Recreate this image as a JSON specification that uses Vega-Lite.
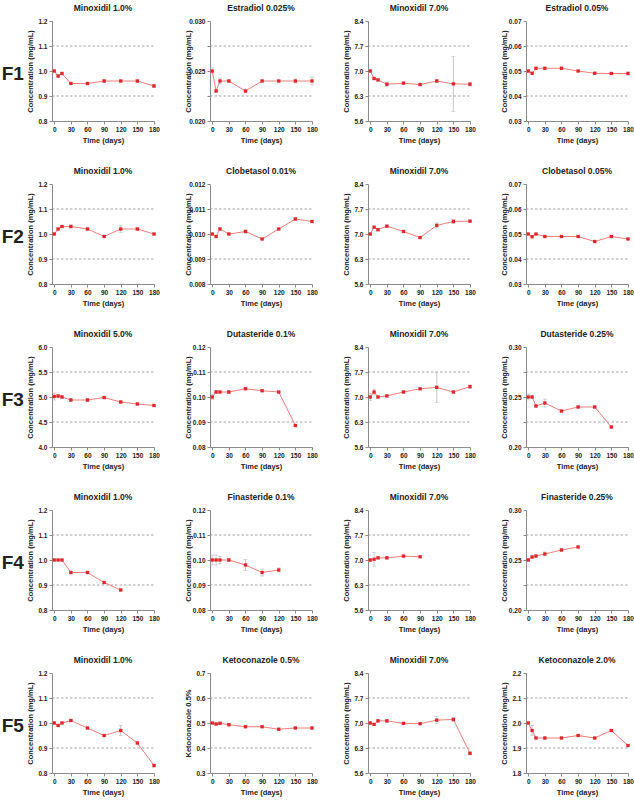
{
  "$schema": "https://vega.github.io/schema/vega-lite/v6.json",
  "padding": {"top": 3, "left": 1, "right": 1, "bottom": 2},
  "background": "white",
  "datasets": {
    "conc": [
      {"p":"F1a","t":0,"c":1.0,"sd":0.005},{"p":"F1a","t":7,"c":0.98,"sd":0.006},{"p":"F1a","t":14,"c":0.99,"sd":0.005},{"p":"F1a","t":30,"c":0.95,"sd":0.004},{"p":"F1a","t":60,"c":0.95,"sd":0.004},{"p":"F1a","t":90,"c":0.96,"sd":0.006},{"p":"F1a","t":120,"c":0.96,"sd":0.004},{"p":"F1a","t":150,"c":0.96,"sd":0.007},{"p":"F1a","t":180,"c":0.94,"sd":0.006},
      {"p":"F1b","t":0,"c":0.025,"sd":0.0003},{"p":"F1b","t":7,"c":0.023,"sd":0.0001},{"p":"F1b","t":14,"c":0.024,"sd":0.0003},{"p":"F1b","t":30,"c":0.024,"sd":0.0001},{"p":"F1b","t":60,"c":0.023,"sd":0.0002},{"p":"F1b","t":90,"c":0.024,"sd":0.0001},{"p":"F1b","t":120,"c":0.024,"sd":0.0001},{"p":"F1b","t":150,"c":0.024,"sd":0.0002},{"p":"F1b","t":180,"c":0.024,"sd":0.0004},
      {"p":"F1c","t":0,"c":7.0,"sd":0.04},{"p":"F1c","t":7,"c":6.79,"sd":0.03},{"p":"F1c","t":14,"c":6.75,"sd":0.03},{"p":"F1c","t":30,"c":6.63,"sd":0.06},{"p":"F1c","t":60,"c":6.66,"sd":0.03},{"p":"F1c","t":90,"c":6.62,"sd":0.03},{"p":"F1c","t":120,"c":6.72,"sd":0.05},{"p":"F1c","t":150,"c":6.64,"sd":0.77},{"p":"F1c","t":180,"c":6.63,"sd":0.05},
      {"p":"F1d","t":0,"c":0.05,"sd":0.0003},{"p":"F1d","t":7,"c":0.0491,"sd":0.0003},{"p":"F1d","t":14,"c":0.0511,"sd":0.0003},{"p":"F1d","t":30,"c":0.0511,"sd":0.0003},{"p":"F1d","t":60,"c":0.0511,"sd":0.0004},{"p":"F1d","t":90,"c":0.05,"sd":0.0003},{"p":"F1d","t":120,"c":0.0491,"sd":0.0003},{"p":"F1d","t":150,"c":0.049,"sd":0.0003},{"p":"F1d","t":180,"c":0.049,"sd":0.0006},
      {"p":"F2a","t":0,"c":1.0,"sd":0.004},{"p":"F2a","t":7,"c":1.02,"sd":0.004},{"p":"F2a","t":14,"c":1.03,"sd":0.004},{"p":"F2a","t":30,"c":1.03,"sd":0.006},{"p":"F2a","t":60,"c":1.02,"sd":0.004},{"p":"F2a","t":90,"c":0.99,"sd":0.004},{"p":"F2a","t":120,"c":1.02,"sd":0.015},{"p":"F2a","t":150,"c":1.02,"sd":0.005},{"p":"F2a","t":180,"c":1.0,"sd":0.003},
      {"p":"F2b","t":0,"c":0.01,"sd":0.00003},{"p":"F2b","t":7,"c":0.0099,"sd":0.00003},{"p":"F2b","t":14,"c":0.0102,"sd":0.00004},{"p":"F2b","t":30,"c":0.01,"sd":0.00003},{"p":"F2b","t":60,"c":0.0101,"sd":0.00006},{"p":"F2b","t":90,"c":0.0098,"sd":0.00002},{"p":"F2b","t":120,"c":0.0102,"sd":0.00003},{"p":"F2b","t":150,"c":0.0106,"sd":0.00005},{"p":"F2b","t":180,"c":0.0105,"sd":0.00003},
      {"p":"F2c","t":0,"c":7.0,"sd":0.03},{"p":"F2c","t":7,"c":7.19,"sd":0.03},{"p":"F2c","t":14,"c":7.12,"sd":0.03},{"p":"F2c","t":30,"c":7.22,"sd":0.03},{"p":"F2c","t":60,"c":7.07,"sd":0.03},{"p":"F2c","t":90,"c":6.9,"sd":0.02},{"p":"F2c","t":120,"c":7.24,"sd":0.07},{"p":"F2c","t":150,"c":7.35,"sd":0.06},{"p":"F2c","t":180,"c":7.36,"sd":0.03},
      {"p":"F2d","t":0,"c":0.05,"sd":0.0002},{"p":"F2d","t":7,"c":0.0489,"sd":0.0002},{"p":"F2d","t":14,"c":0.05,"sd":0.0002},{"p":"F2d","t":30,"c":0.049,"sd":0.0002},{"p":"F2d","t":60,"c":0.049,"sd":0.0002},{"p":"F2d","t":90,"c":0.049,"sd":0.0002},{"p":"F2d","t":120,"c":0.047,"sd":0.0002},{"p":"F2d","t":150,"c":0.049,"sd":0.0002},{"p":"F2d","t":180,"c":0.048,"sd":0.0002},
      {"p":"F3a","t":0,"c":5.01,"sd":0.07},{"p":"F3a","t":7,"c":5.02,"sd":0.03},{"p":"F3a","t":14,"c":5.0,"sd":0.03},{"p":"F3a","t":30,"c":4.94,"sd":0.03},{"p":"F3a","t":60,"c":4.94,"sd":0.03},{"p":"F3a","t":90,"c":4.99,"sd":0.02},{"p":"F3a","t":120,"c":4.9,"sd":0.02},{"p":"F3a","t":150,"c":4.86,"sd":0.02},{"p":"F3a","t":180,"c":4.83,"sd":0.02},
      {"p":"F3b","t":0,"c":0.1,"sd":0.001},{"p":"F3b","t":7,"c":0.102,"sd":0.0006},{"p":"F3b","t":14,"c":0.102,"sd":0.0004},{"p":"F3b","t":30,"c":0.102,"sd":0.0006},{"p":"F3b","t":60,"c":0.1033,"sd":0.0003},{"p":"F3b","t":90,"c":0.1025,"sd":0.0003},{"p":"F3b","t":120,"c":0.102,"sd":0.0003},{"p":"F3b","t":150,"c":0.0886,"sd":0.0003},
      {"p":"F3c","t":0,"c":7.0,"sd":0.1},{"p":"F3c","t":7,"c":7.14,"sd":0.08},{"p":"F3c","t":14,"c":7.0,"sd":0.03},{"p":"F3c","t":30,"c":7.03,"sd":0.03},{"p":"F3c","t":60,"c":7.14,"sd":0.03},{"p":"F3c","t":90,"c":7.23,"sd":0.03},{"p":"F3c","t":120,"c":7.27,"sd":0.42},{"p":"F3c","t":150,"c":7.14,"sd":0.03},{"p":"F3c","t":180,"c":7.29,"sd":0.05},
      {"p":"F3d","t":0,"c":0.25,"sd":0.003},{"p":"F3d","t":7,"c":0.25,"sd":0.001},{"p":"F3d","t":14,"c":0.241,"sd":0.001},{"p":"F3d","t":30,"c":0.244,"sd":0.004},{"p":"F3d","t":60,"c":0.236,"sd":0.001},{"p":"F3d","t":90,"c":0.24,"sd":0.001},{"p":"F3d","t":120,"c":0.24,"sd":0.001},{"p":"F3d","t":150,"c":0.22,"sd":0.001},
      {"p":"F4a","t":0,"c":1.0,"sd":0.003},{"p":"F4a","t":7,"c":1.0,"sd":0.003},{"p":"F4a","t":14,"c":1.0,"sd":0.003},{"p":"F4a","t":30,"c":0.95,"sd":0.004},{"p":"F4a","t":60,"c":0.95,"sd":0.004},{"p":"F4a","t":90,"c":0.91,"sd":0.004},{"p":"F4a","t":120,"c":0.88,"sd":0.004},
      {"p":"F4b","t":0,"c":0.1,"sd":0.002},{"p":"F4b","t":7,"c":0.1,"sd":0.002},{"p":"F4b","t":14,"c":0.1,"sd":0.0015},{"p":"F4b","t":30,"c":0.1,"sd":0.0006},{"p":"F4b","t":60,"c":0.098,"sd":0.0022},{"p":"F4b","t":90,"c":0.095,"sd":0.0014},{"p":"F4b","t":120,"c":0.096,"sd":0.0008},
      {"p":"F4c","t":0,"c":7.0,"sd":0.04},{"p":"F4c","t":7,"c":7.02,"sd":0.19},{"p":"F4c","t":14,"c":7.06,"sd":0.03},{"p":"F4c","t":30,"c":7.06,"sd":0.03},{"p":"F4c","t":60,"c":7.11,"sd":0.02},{"p":"F4c","t":90,"c":7.09,"sd":0.02},
      {"p":"F4d","t":0,"c":0.25,"sd":0.0015},{"p":"F4d","t":7,"c":0.253,"sd":0.001},{"p":"F4d","t":14,"c":0.254,"sd":0.001},{"p":"F4d","t":30,"c":0.256,"sd":0.002},{"p":"F4d","t":60,"c":0.26,"sd":0.001},{"p":"F4d","t":90,"c":0.263,"sd":0.001},
      {"p":"F5a","t":0,"c":1.0,"sd":0.005},{"p":"F5a","t":7,"c":0.99,"sd":0.004},{"p":"F5a","t":14,"c":1.0,"sd":0.004},{"p":"F5a","t":30,"c":1.01,"sd":0.004},{"p":"F5a","t":60,"c":0.98,"sd":0.003},{"p":"F5a","t":90,"c":0.95,"sd":0.004},{"p":"F5a","t":120,"c":0.97,"sd":0.02},{"p":"F5a","t":150,"c":0.92,"sd":0.004},{"p":"F5a","t":180,"c":0.83,"sd":0.006},
      {"p":"F5b","t":0,"c":0.5,"sd":0.004},{"p":"F5b","t":7,"c":0.496,"sd":0.004},{"p":"F5b","t":14,"c":0.499,"sd":0.004},{"p":"F5b","t":30,"c":0.493,"sd":0.004},{"p":"F5b","t":60,"c":0.485,"sd":0.003},{"p":"F5b","t":90,"c":0.485,"sd":0.003},{"p":"F5b","t":120,"c":0.475,"sd":0.004},{"p":"F5b","t":150,"c":0.48,"sd":0.003},{"p":"F5b","t":180,"c":0.48,"sd":0.004},
      {"p":"F5c","t":0,"c":7.0,"sd":0.03},{"p":"F5c","t":7,"c":6.96,"sd":0.03},{"p":"F5c","t":14,"c":7.06,"sd":0.03},{"p":"F5c","t":30,"c":7.06,"sd":0.04},{"p":"F5c","t":60,"c":6.99,"sd":0.02},{"p":"F5c","t":90,"c":6.98,"sd":0.02},{"p":"F5c","t":120,"c":7.08,"sd":0.1},{"p":"F5c","t":150,"c":7.1,"sd":0.06},{"p":"F5c","t":180,"c":6.15,"sd":0.04},
      {"p":"F5d","t":0,"c":2.0,"sd":0.004},{"p":"F5d","t":7,"c":1.97,"sd":0.02},{"p":"F5d","t":14,"c":1.94,"sd":0.003},{"p":"F5d","t":30,"c":1.94,"sd":0.004},{"p":"F5d","t":60,"c":1.94,"sd":0.003},{"p":"F5d","t":90,"c":1.95,"sd":0.003},{"p":"F5d","t":120,"c":1.94,"sd":0.003},{"p":"F5d","t":150,"c":1.97,"sd":0.003},{"p":"F5d","t":180,"c":1.91,"sd":0.003}
    ],
    "lim": [
      {"p":"F1a","c":0.9},{"p":"F1a","c":1.1},{"p":"F1b","c":0.0225},{"p":"F1b","c":0.0275},{"p":"F1c","c":6.3},{"p":"F1c","c":7.7},{"p":"F1d","c":0.04},{"p":"F1d","c":0.06},
      {"p":"F2a","c":0.9},{"p":"F2a","c":1.1},{"p":"F2b","c":0.009},{"p":"F2b","c":0.011},{"p":"F2c","c":6.3},{"p":"F2c","c":7.7},{"p":"F2d","c":0.04},{"p":"F2d","c":0.06},
      {"p":"F3a","c":4.5},{"p":"F3a","c":5.5},{"p":"F3b","c":0.09},{"p":"F3b","c":0.11},{"p":"F3c","c":6.3},{"p":"F3c","c":7.7},{"p":"F3d","c":0.225},{"p":"F3d","c":0.275},
      {"p":"F4a","c":0.9},{"p":"F4a","c":1.1},{"p":"F4b","c":0.09},{"p":"F4b","c":0.11},{"p":"F4c","c":6.3},{"p":"F4c","c":7.7},{"p":"F4d","c":0.225},{"p":"F4d","c":0.275},
      {"p":"F5a","c":0.9},{"p":"F5a","c":1.1},{"p":"F5b","c":0.4},{"p":"F5b","c":0.6},{"p":"F5c","c":6.3},{"p":"F5c","c":7.7},{"p":"F5d","c":1.9},{"p":"F5d","c":2.1}
    ]
  },
  "spacing": 22,
  "vconcat": [
    {"title": {"text": "F1", "orient": "left", "angle": 0, "align": "right", "baseline": "middle", "fontSize": 19, "anchor": "middle", "offset": -20}, "spacing": 24, "hconcat": [
      {"title": "Minoxidil 1.0%", "width": 102, "height": 100, "data": {"name": "conc"}, "transform": [{"filter": "datum.p=='F1a'"}],
       "encoding": {
         "x": {"field": "t", "type": "quantitative", "scale": {"domain": [-4, 180], "nice": false}, "axis": {"values": [0, 30, 60, 90, 120, 150, 180], "labelOverlap": false, "title": "Time (days)"}},
         "y": {"field": "c", "type": "quantitative", "scale": {"domain": [0.8, 1.2], "nice": false, "zero": false}, "axis": {"values": [0.8, 0.9, 1.0, 1.1, 1.2], "format": ".1f", "title": "Concentration (mg/mL)"}}},
       "layer": [
        {"data": {"name": "lim"}, "transform": [{"filter": "datum.p=='F1a'"}], "mark": {"type": "rule", "style": "lim"}, "encoding": {"x": {"value": 0}, "x2": {"value": "width"}}},
        {"mark": {"type": "errorbar", "ticks": true, "size": 4, "color": "#b8b8b8", "thickness": 0.8}, "encoding": {"yError": {"field": "sd"}}},
        {"mark": {"type": "line", "style": "ln"}, "encoding": {}},
        {"mark": {"type": "square", "style": "pt"}, "encoding": {}}
       ]},
      {"title": "Estradiol 0.025%", "width": 102, "height": 100, "data": {"name": "conc"}, "transform": [{"filter": "datum.p=='F1b'"}],
       "encoding": {
         "x": {"field": "t", "type": "quantitative", "scale": {"domain": [-4, 180], "nice": false}, "axis": {"values": [0, 30, 60, 90, 120, 150, 180], "labelOverlap": false, "title": "Time (days)"}},
         "y": {"field": "c", "type": "quantitative", "scale": {"domain": [0.02, 0.03], "nice": false, "zero": false}, "axis": {"values": [0.02, 0.0225, 0.025, 0.0275, 0.03], "format": ".3f", "labelExpr": "indexof(['0.020','0.025','0.030'], datum.label) < 0 ? '' : datum.label", "title": "Concentration (mg/mL)"}}},
       "layer": [
        {"data": {"name": "lim"}, "transform": [{"filter": "datum.p=='F1b'"}], "mark": {"type": "rule", "style": "lim"}, "encoding": {"x": {"value": 0}, "x2": {"value": "width"}}},
        {"mark": {"type": "errorbar", "ticks": true, "size": 4, "color": "#b8b8b8", "thickness": 0.8}, "encoding": {"yError": {"field": "sd"}}},
        {"mark": {"type": "line", "style": "ln"}, "encoding": {}},
        {"mark": {"type": "square", "style": "pt"}, "encoding": {}}
       ]},
      {"title": "Minoxidil 7.0%", "width": 102, "height": 100, "data": {"name": "conc"}, "transform": [{"filter": "datum.p=='F1c'"}],
       "encoding": {
         "x": {"field": "t", "type": "quantitative", "scale": {"domain": [-4, 180], "nice": false}, "axis": {"values": [0, 30, 60, 90, 120, 150, 180], "labelOverlap": false, "title": "Time (days)"}},
         "y": {"field": "c", "type": "quantitative", "scale": {"domain": [5.6, 8.4], "nice": false, "zero": false}, "axis": {"values": [5.6, 6.3, 7.0, 7.7, 8.4], "format": ".1f", "title": "Concentration (mg/mL)"}}},
       "layer": [
        {"data": {"name": "lim"}, "transform": [{"filter": "datum.p=='F1c'"}], "mark": {"type": "rule", "style": "lim"}, "encoding": {"x": {"value": 0}, "x2": {"value": "width"}}},
        {"mark": {"type": "errorbar", "ticks": true, "size": 4, "color": "#b8b8b8", "thickness": 0.8}, "encoding": {"yError": {"field": "sd"}}},
        {"mark": {"type": "line", "style": "ln"}, "encoding": {}},
        {"mark": {"type": "square", "style": "pt"}, "encoding": {}}
       ]},
      {"title": "Estradiol 0.05%", "width": 102, "height": 100, "data": {"name": "conc"}, "transform": [{"filter": "datum.p=='F1d'"}],
       "encoding": {
         "x": {"field": "t", "type": "quantitative", "scale": {"domain": [-4, 180], "nice": false}, "axis": {"values": [0, 30, 60, 90, 120, 150, 180], "labelOverlap": false, "title": "Time (days)"}},
         "y": {"field": "c", "type": "quantitative", "scale": {"domain": [0.03, 0.07], "nice": false, "zero": false}, "axis": {"values": [0.03, 0.04, 0.05, 0.06, 0.07], "format": ".2f", "title": "Concentration (mg/mL)"}}},
       "layer": [
        {"data": {"name": "lim"}, "transform": [{"filter": "datum.p=='F1d'"}], "mark": {"type": "rule", "style": "lim"}, "encoding": {"x": {"value": 0}, "x2": {"value": "width"}}},
        {"mark": {"type": "errorbar", "ticks": true, "size": 4, "color": "#b8b8b8", "thickness": 0.8}, "encoding": {"yError": {"field": "sd"}}},
        {"mark": {"type": "line", "style": "ln"}, "encoding": {}},
        {"mark": {"type": "square", "style": "pt"}, "encoding": {}}
       ]}
    ]},
    {"title": {"text": "F2", "orient": "left", "angle": 0, "align": "right", "baseline": "middle", "fontSize": 19, "anchor": "middle", "offset": -20}, "spacing": 24, "hconcat": [
      {"title": "Minoxidil 1.0%", "width": 102, "height": 100, "data": {"name": "conc"}, "transform": [{"filter": "datum.p=='F2a'"}],
       "encoding": {
         "x": {"field": "t", "type": "quantitative", "scale": {"domain": [-4, 180], "nice": false}, "axis": {"values": [0, 30, 60, 90, 120, 150, 180], "labelOverlap": false, "title": "Time (days)"}},
         "y": {"field": "c", "type": "quantitative", "scale": {"domain": [0.8, 1.2], "nice": false, "zero": false}, "axis": {"values": [0.8, 0.9, 1.0, 1.1, 1.2], "format": ".1f", "title": "Concentration (mg/mL)"}}},
       "layer": [
        {"data": {"name": "lim"}, "transform": [{"filter": "datum.p=='F2a'"}], "mark": {"type": "rule", "style": "lim"}, "encoding": {"x": {"value": 0}, "x2": {"value": "width"}}},
        {"mark": {"type": "errorbar", "ticks": true, "size": 4, "color": "#b8b8b8", "thickness": 0.8}, "encoding": {"yError": {"field": "sd"}}},
        {"mark": {"type": "line", "style": "ln"}, "encoding": {}},
        {"mark": {"type": "square", "style": "pt"}, "encoding": {}}
       ]},
      {"title": "Clobetasol 0.01%", "width": 102, "height": 100, "data": {"name": "conc"}, "transform": [{"filter": "datum.p=='F2b'"}],
       "encoding": {
         "x": {"field": "t", "type": "quantitative", "scale": {"domain": [-4, 180], "nice": false}, "axis": {"values": [0, 30, 60, 90, 120, 150, 180], "labelOverlap": false, "title": "Time (days)"}},
         "y": {"field": "c", "type": "quantitative", "scale": {"domain": [0.008, 0.012], "nice": false, "zero": false}, "axis": {"values": [0.008, 0.009, 0.01, 0.011, 0.012], "format": ".3f", "title": "Concentration (mg/mL)"}}},
       "layer": [
        {"data": {"name": "lim"}, "transform": [{"filter": "datum.p=='F2b'"}], "mark": {"type": "rule", "style": "lim"}, "encoding": {"x": {"value": 0}, "x2": {"value": "width"}}},
        {"mark": {"type": "errorbar", "ticks": true, "size": 4, "color": "#b8b8b8", "thickness": 0.8}, "encoding": {"yError": {"field": "sd"}}},
        {"mark": {"type": "line", "style": "ln"}, "encoding": {}},
        {"mark": {"type": "square", "style": "pt"}, "encoding": {}}
       ]},
      {"title": "Minoxidil 7.0%", "width": 102, "height": 100, "data": {"name": "conc"}, "transform": [{"filter": "datum.p=='F2c'"}],
       "encoding": {
         "x": {"field": "t", "type": "quantitative", "scale": {"domain": [-4, 180], "nice": false}, "axis": {"values": [0, 30, 60, 90, 120, 150, 180], "labelOverlap": false, "title": "Time (days)"}},
         "y": {"field": "c", "type": "quantitative", "scale": {"domain": [5.6, 8.4], "nice": false, "zero": false}, "axis": {"values": [5.6, 6.3, 7.0, 7.7, 8.4], "format": ".1f", "title": "Concentration (mg/mL)"}}},
       "layer": [
        {"data": {"name": "lim"}, "transform": [{"filter": "datum.p=='F2c'"}], "mark": {"type": "rule", "style": "lim"}, "encoding": {"x": {"value": 0}, "x2": {"value": "width"}}},
        {"mark": {"type": "errorbar", "ticks": true, "size": 4, "color": "#b8b8b8", "thickness": 0.8}, "encoding": {"yError": {"field": "sd"}}},
        {"mark": {"type": "line", "style": "ln"}, "encoding": {}},
        {"mark": {"type": "square", "style": "pt"}, "encoding": {}}
       ]},
      {"title": "Clobetasol 0.05%", "width": 102, "height": 100, "data": {"name": "conc"}, "transform": [{"filter": "datum.p=='F2d'"}],
       "encoding": {
         "x": {"field": "t", "type": "quantitative", "scale": {"domain": [-4, 180], "nice": false}, "axis": {"values": [0, 30, 60, 90, 120, 150, 180], "labelOverlap": false, "title": "Time (days)"}},
         "y": {"field": "c", "type": "quantitative", "scale": {"domain": [0.03, 0.07], "nice": false, "zero": false}, "axis": {"values": [0.03, 0.04, 0.05, 0.06, 0.07], "format": ".2f", "title": "Concentration (mg/mL)"}}},
       "layer": [
        {"data": {"name": "lim"}, "transform": [{"filter": "datum.p=='F2d'"}], "mark": {"type": "rule", "style": "lim"}, "encoding": {"x": {"value": 0}, "x2": {"value": "width"}}},
        {"mark": {"type": "errorbar", "ticks": true, "size": 4, "color": "#b8b8b8", "thickness": 0.8}, "encoding": {"yError": {"field": "sd"}}},
        {"mark": {"type": "line", "style": "ln"}, "encoding": {}},
        {"mark": {"type": "square", "style": "pt"}, "encoding": {}}
       ]}
    ]},
    {"title": {"text": "F3", "orient": "left", "angle": 0, "align": "right", "baseline": "middle", "fontSize": 19, "anchor": "middle", "offset": -20}, "spacing": 24, "hconcat": [
      {"title": "Minoxidil 5.0%", "width": 102, "height": 100, "data": {"name": "conc"}, "transform": [{"filter": "datum.p=='F3a'"}],
       "encoding": {
         "x": {"field": "t", "type": "quantitative", "scale": {"domain": [-4, 180], "nice": false}, "axis": {"values": [0, 30, 60, 90, 120, 150, 180], "labelOverlap": false, "title": "Time (days)"}},
         "y": {"field": "c", "type": "quantitative", "scale": {"domain": [4.0, 6.0], "nice": false, "zero": false}, "axis": {"values": [4.0, 4.5, 5.0, 5.5, 6.0], "format": ".1f", "title": "Concentration (mg/mL)"}}},
       "layer": [
        {"data": {"name": "lim"}, "transform": [{"filter": "datum.p=='F3a'"}], "mark": {"type": "rule", "style": "lim"}, "encoding": {"x": {"value": 0}, "x2": {"value": "width"}}},
        {"mark": {"type": "errorbar", "ticks": true, "size": 4, "color": "#b8b8b8", "thickness": 0.8}, "encoding": {"yError": {"field": "sd"}}},
        {"mark": {"type": "line", "style": "ln"}, "encoding": {}},
        {"mark": {"type": "square", "style": "pt"}, "encoding": {}}
       ]},
      {"title": "Dutasteride 0.1%", "width": 102, "height": 100, "data": {"name": "conc"}, "transform": [{"filter": "datum.p=='F3b'"}],
       "encoding": {
         "x": {"field": "t", "type": "quantitative", "scale": {"domain": [-4, 180], "nice": false}, "axis": {"values": [0, 30, 60, 90, 120, 150, 180], "labelOverlap": false, "title": "Time (days)"}},
         "y": {"field": "c", "type": "quantitative", "scale": {"domain": [0.08, 0.12], "nice": false, "zero": false}, "axis": {"values": [0.08, 0.09, 0.1, 0.11, 0.12], "format": ".2f", "title": "Concentration (mg/mL)"}}},
       "layer": [
        {"data": {"name": "lim"}, "transform": [{"filter": "datum.p=='F3b'"}], "mark": {"type": "rule", "style": "lim"}, "encoding": {"x": {"value": 0}, "x2": {"value": "width"}}},
        {"mark": {"type": "errorbar", "ticks": true, "size": 4, "color": "#b8b8b8", "thickness": 0.8}, "encoding": {"yError": {"field": "sd"}}},
        {"mark": {"type": "line", "style": "ln"}, "encoding": {}},
        {"mark": {"type": "square", "style": "pt"}, "encoding": {}}
       ]},
      {"title": "Minoxidil 7.0%", "width": 102, "height": 100, "data": {"name": "conc"}, "transform": [{"filter": "datum.p=='F3c'"}],
       "encoding": {
         "x": {"field": "t", "type": "quantitative", "scale": {"domain": [-4, 180], "nice": false}, "axis": {"values": [0, 30, 60, 90, 120, 150, 180], "labelOverlap": false, "title": "Time (days)"}},
         "y": {"field": "c", "type": "quantitative", "scale": {"domain": [5.6, 8.4], "nice": false, "zero": false}, "axis": {"values": [5.6, 6.3, 7.0, 7.7, 8.4], "format": ".1f", "title": "Concentration (mg/mL)"}}},
       "layer": [
        {"data": {"name": "lim"}, "transform": [{"filter": "datum.p=='F3c'"}], "mark": {"type": "rule", "style": "lim"}, "encoding": {"x": {"value": 0}, "x2": {"value": "width"}}},
        {"mark": {"type": "errorbar", "ticks": true, "size": 4, "color": "#b8b8b8", "thickness": 0.8}, "encoding": {"yError": {"field": "sd"}}},
        {"mark": {"type": "line", "style": "ln"}, "encoding": {}},
        {"mark": {"type": "square", "style": "pt"}, "encoding": {}}
       ]},
      {"title": "Dutasteride 0.25%", "width": 102, "height": 100, "data": {"name": "conc"}, "transform": [{"filter": "datum.p=='F3d'"}],
       "encoding": {
         "x": {"field": "t", "type": "quantitative", "scale": {"domain": [-4, 180], "nice": false}, "axis": {"values": [0, 30, 60, 90, 120, 150, 180], "labelOverlap": false, "title": "Time (days)"}},
         "y": {"field": "c", "type": "quantitative", "scale": {"domain": [0.2, 0.3], "nice": false, "zero": false}, "axis": {"values": [0.2, 0.225, 0.25, 0.275, 0.3], "format": ".2f", "labelExpr": "indexof(['0.20','0.25','0.30'], datum.label) < 0 ? '' : datum.label", "title": "Concentration (mg/mL)"}}},
       "layer": [
        {"data": {"name": "lim"}, "transform": [{"filter": "datum.p=='F3d'"}], "mark": {"type": "rule", "style": "lim"}, "encoding": {"x": {"value": 0}, "x2": {"value": "width"}}},
        {"mark": {"type": "errorbar", "ticks": true, "size": 4, "color": "#b8b8b8", "thickness": 0.8}, "encoding": {"yError": {"field": "sd"}}},
        {"mark": {"type": "line", "style": "ln"}, "encoding": {}},
        {"mark": {"type": "square", "style": "pt"}, "encoding": {}}
       ]}
    ]},
    {"title": {"text": "F4", "orient": "left", "angle": 0, "align": "right", "baseline": "middle", "fontSize": 19, "anchor": "middle", "offset": -20}, "spacing": 24, "hconcat": [
      {"title": "Minoxidil 1.0%", "width": 102, "height": 100, "data": {"name": "conc"}, "transform": [{"filter": "datum.p=='F4a'"}],
       "encoding": {
         "x": {"field": "t", "type": "quantitative", "scale": {"domain": [-4, 180], "nice": false}, "axis": {"values": [0, 30, 60, 90, 120, 150, 180], "labelOverlap": false, "title": "Time (days)"}},
         "y": {"field": "c", "type": "quantitative", "scale": {"domain": [0.8, 1.2], "nice": false, "zero": false}, "axis": {"values": [0.8, 0.9, 1.0, 1.1, 1.2], "format": ".1f", "title": "Concentration (mg/mL)"}}},
       "layer": [
        {"data": {"name": "lim"}, "transform": [{"filter": "datum.p=='F4a'"}], "mark": {"type": "rule", "style": "lim"}, "encoding": {"x": {"value": 0}, "x2": {"value": "width"}}},
        {"mark": {"type": "errorbar", "ticks": true, "size": 4, "color": "#b8b8b8", "thickness": 0.8}, "encoding": {"yError": {"field": "sd"}}},
        {"mark": {"type": "line", "style": "ln"}, "encoding": {}},
        {"mark": {"type": "square", "style": "pt"}, "encoding": {}}
       ]},
      {"title": "Finasteride 0.1%", "width": 102, "height": 100, "data": {"name": "conc"}, "transform": [{"filter": "datum.p=='F4b'"}],
       "encoding": {
         "x": {"field": "t", "type": "quantitative", "scale": {"domain": [-4, 180], "nice": false}, "axis": {"values": [0, 30, 60, 90, 120, 150, 180], "labelOverlap": false, "title": "Time (days)"}},
         "y": {"field": "c", "type": "quantitative", "scale": {"domain": [0.08, 0.12], "nice": false, "zero": false}, "axis": {"values": [0.08, 0.09, 0.1, 0.11, 0.12], "format": ".2f", "title": "Concentration (mg/mL)"}}},
       "layer": [
        {"data": {"name": "lim"}, "transform": [{"filter": "datum.p=='F4b'"}], "mark": {"type": "rule", "style": "lim"}, "encoding": {"x": {"value": 0}, "x2": {"value": "width"}}},
        {"mark": {"type": "errorbar", "ticks": true, "size": 4, "color": "#b8b8b8", "thickness": 0.8}, "encoding": {"yError": {"field": "sd"}}},
        {"mark": {"type": "line", "style": "ln"}, "encoding": {}},
        {"mark": {"type": "square", "style": "pt"}, "encoding": {}}
       ]},
      {"title": "Minoxidil 7.0%", "width": 102, "height": 100, "data": {"name": "conc"}, "transform": [{"filter": "datum.p=='F4c'"}],
       "encoding": {
         "x": {"field": "t", "type": "quantitative", "scale": {"domain": [-4, 180], "nice": false}, "axis": {"values": [0, 30, 60, 90, 120, 150, 180], "labelOverlap": false, "title": "Time (days)"}},
         "y": {"field": "c", "type": "quantitative", "scale": {"domain": [5.6, 8.4], "nice": false, "zero": false}, "axis": {"values": [5.6, 6.3, 7.0, 7.7, 8.4], "format": ".1f", "title": "Concentration (mg/mL)"}}},
       "layer": [
        {"data": {"name": "lim"}, "transform": [{"filter": "datum.p=='F4c'"}], "mark": {"type": "rule", "style": "lim"}, "encoding": {"x": {"value": 0}, "x2": {"value": "width"}}},
        {"mark": {"type": "errorbar", "ticks": true, "size": 4, "color": "#b8b8b8", "thickness": 0.8}, "encoding": {"yError": {"field": "sd"}}},
        {"mark": {"type": "line", "style": "ln"}, "encoding": {}},
        {"mark": {"type": "square", "style": "pt"}, "encoding": {}}
       ]},
      {"title": "Finasteride 0.25%", "width": 102, "height": 100, "data": {"name": "conc"}, "transform": [{"filter": "datum.p=='F4d'"}],
       "encoding": {
         "x": {"field": "t", "type": "quantitative", "scale": {"domain": [-4, 180], "nice": false}, "axis": {"values": [0, 30, 60, 90, 120, 150, 180], "labelOverlap": false, "title": "Time (days)"}},
         "y": {"field": "c", "type": "quantitative", "scale": {"domain": [0.2, 0.3], "nice": false, "zero": false}, "axis": {"values": [0.2, 0.225, 0.25, 0.275, 0.3], "format": ".2f", "labelExpr": "indexof(['0.20','0.25','0.30'], datum.label) < 0 ? '' : datum.label", "title": "Concentration (mg/mL)"}}},
       "layer": [
        {"data": {"name": "lim"}, "transform": [{"filter": "datum.p=='F4d'"}], "mark": {"type": "rule", "style": "lim"}, "encoding": {"x": {"value": 0}, "x2": {"value": "width"}}},
        {"mark": {"type": "errorbar", "ticks": true, "size": 4, "color": "#b8b8b8", "thickness": 0.8}, "encoding": {"yError": {"field": "sd"}}},
        {"mark": {"type": "line", "style": "ln"}, "encoding": {}},
        {"mark": {"type": "square", "style": "pt"}, "encoding": {}}
       ]}
    ]},
    {"title": {"text": "F5", "orient": "left", "angle": 0, "align": "right", "baseline": "middle", "fontSize": 19, "anchor": "middle", "offset": -20}, "spacing": 24, "hconcat": [
      {"title": "Minoxidil 1.0%", "width": 102, "height": 100, "data": {"name": "conc"}, "transform": [{"filter": "datum.p=='F5a'"}],
       "encoding": {
         "x": {"field": "t", "type": "quantitative", "scale": {"domain": [-4, 180], "nice": false}, "axis": {"values": [0, 30, 60, 90, 120, 150, 180], "labelOverlap": false, "title": "Time (days)"}},
         "y": {"field": "c", "type": "quantitative", "scale": {"domain": [0.8, 1.2], "nice": false, "zero": false}, "axis": {"values": [0.8, 0.9, 1.0, 1.1, 1.2], "format": ".1f", "title": "Concentration (mg/mL)"}}},
       "layer": [
        {"data": {"name": "lim"}, "transform": [{"filter": "datum.p=='F5a'"}], "mark": {"type": "rule", "style": "lim"}, "encoding": {"x": {"value": 0}, "x2": {"value": "width"}}},
        {"mark": {"type": "errorbar", "ticks": true, "size": 4, "color": "#b8b8b8", "thickness": 0.8}, "encoding": {"yError": {"field": "sd"}}},
        {"mark": {"type": "line", "style": "ln"}, "encoding": {}},
        {"mark": {"type": "square", "style": "pt"}, "encoding": {}}
       ]},
      {"title": "Ketoconazole 0.5%", "width": 102, "height": 100, "data": {"name": "conc"}, "transform": [{"filter": "datum.p=='F5b'"}],
       "encoding": {
         "x": {"field": "t", "type": "quantitative", "scale": {"domain": [-4, 180], "nice": false}, "axis": {"values": [0, 30, 60, 90, 120, 150, 180], "labelOverlap": false, "title": "Time (days)"}},
         "y": {"field": "c", "type": "quantitative", "scale": {"domain": [0.3, 0.7], "nice": false, "zero": false}, "axis": {"values": [0.3, 0.4, 0.5, 0.6, 0.7], "format": ".1f", "title": "Ketoconazole 0.5%"}}},
       "layer": [
        {"data": {"name": "lim"}, "transform": [{"filter": "datum.p=='F5b'"}], "mark": {"type": "rule", "style": "lim"}, "encoding": {"x": {"value": 0}, "x2": {"value": "width"}}},
        {"mark": {"type": "errorbar", "ticks": true, "size": 4, "color": "#b8b8b8", "thickness": 0.8}, "encoding": {"yError": {"field": "sd"}}},
        {"mark": {"type": "line", "style": "ln"}, "encoding": {}},
        {"mark": {"type": "square", "style": "pt"}, "encoding": {}}
       ]},
      {"title": "Minoxidil 7.0%", "width": 102, "height": 100, "data": {"name": "conc"}, "transform": [{"filter": "datum.p=='F5c'"}],
       "encoding": {
         "x": {"field": "t", "type": "quantitative", "scale": {"domain": [-4, 180], "nice": false}, "axis": {"values": [0, 30, 60, 90, 120, 150, 180], "labelOverlap": false, "title": "Time (days)"}},
         "y": {"field": "c", "type": "quantitative", "scale": {"domain": [5.6, 8.4], "nice": false, "zero": false}, "axis": {"values": [5.6, 6.3, 7.0, 7.7, 8.4], "format": ".1f", "title": "Concentration (mg/mL)"}}},
       "layer": [
        {"data": {"name": "lim"}, "transform": [{"filter": "datum.p=='F5c'"}], "mark": {"type": "rule", "style": "lim"}, "encoding": {"x": {"value": 0}, "x2": {"value": "width"}}},
        {"mark": {"type": "errorbar", "ticks": true, "size": 4, "color": "#b8b8b8", "thickness": 0.8}, "encoding": {"yError": {"field": "sd"}}},
        {"mark": {"type": "line", "style": "ln"}, "encoding": {}},
        {"mark": {"type": "square", "style": "pt"}, "encoding": {}}
       ]},
      {"title": "Ketoconazole 2.0%", "width": 102, "height": 100, "data": {"name": "conc"}, "transform": [{"filter": "datum.p=='F5d'"}],
       "encoding": {
         "x": {"field": "t", "type": "quantitative", "scale": {"domain": [-4, 180], "nice": false}, "axis": {"values": [0, 30, 60, 90, 120, 150, 180], "labelOverlap": false, "title": "Time (days)"}},
         "y": {"field": "c", "type": "quantitative", "scale": {"domain": [1.8, 2.2], "nice": false, "zero": false}, "axis": {"values": [1.8, 1.9, 2.0, 2.1, 2.2], "format": ".1f", "title": "Concentration (mg/mL)"}}},
       "layer": [
        {"data": {"name": "lim"}, "transform": [{"filter": "datum.p=='F5d'"}], "mark": {"type": "rule", "style": "lim"}, "encoding": {"x": {"value": 0}, "x2": {"value": "width"}}},
        {"mark": {"type": "errorbar", "ticks": true, "size": 4, "color": "#b8b8b8", "thickness": 0.8}, "encoding": {"yError": {"field": "sd"}}},
        {"mark": {"type": "line", "style": "ln"}, "encoding": {}},
        {"mark": {"type": "square", "style": "pt"}, "encoding": {}}
       ]}
    ]}
  ],
  "config": {
    "font": "Liberation Sans Narrow, Liberation Sans, sans-serif",
    "view": {"stroke": null},
    "axis": {"grid": false, "domainColor": "#8a8a8a", "tickColor": "#8a8a8a", "tickSize": 3, "labelFontSize": 6.5, "labelFontWeight": "bold", "labelColor": "#222222", "labelPadding": 2, "labelOverlap": false, "labelFlush": false, "titleFontSize": 7.5, "titleFontWeight": "bold", "titleColor": "#222222"},
    "axisX": {"titlePadding": 4, "labelOverlap": false},
    "axisY": {"minExtent": 16, "maxExtent": 16, "titlePadding": 2, "titleFont": "Liberation Sans, sans-serif"},
    "title": {"fontSize": 8.5, "fontWeight": "bold", "color": "#222222", "offset": 6},
    "style": {
      "lim": {"color": "#8c8c8c", "strokeDash": [2.5, 2], "strokeWidth": 0.8},
      "ln": {"color": "#ec6f6c", "strokeWidth": 0.9},
      "pt": {"color": "#e0262b", "size": 11, "opacity": 1}
    }
  }
}
